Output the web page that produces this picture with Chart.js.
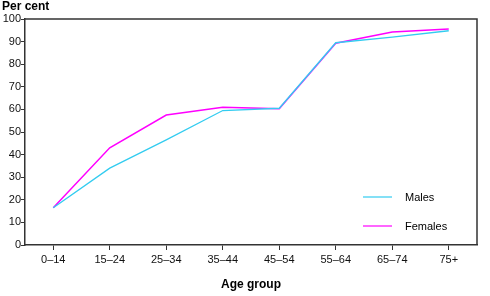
<!DOCTYPE html>
<html>
<head>
<meta charset="utf-8">
<script src="https://cdn.jsdelivr.net/npm/chart.js@4"></script>
<style>
  html, body { margin: 0; padding: 0; background: #fff; }
  #wrap { width: 490px; height: 296px; }
</style>
</head>
<body>
<div id="wrap"><canvas id="chart" width="490" height="296"></canvas></div>
<script>
// Data
const ageGroups = ['0\u201314', '15\u201324', '25\u201334', '35\u201344', '45\u201354', '55\u201364', '65\u201374', '75+'];
const males = [16.5, 34, 46.5, 59.5, 60.5, 89.5, 92, 94.8];
const females = [16.5, 43, 57.5, 61, 60.3, 89.3, 94.2, 95.6];
const yTicks = [0, 10, 20, 30, 40, 50, 60, 70, 80, 90, 100];

const axisColor = '#333';
const font = 'Liberation Sans, Arial, sans-serif';

// frame on top/right, the "Per cent" label and the inside legend
const extras = {
  id: 'extras',
  afterDraw(chart) {
    const { ctx, chartArea: a } = chart;
    ctx.save();
    ctx.strokeStyle = axisColor;
    ctx.lineWidth = 1.5;
    ctx.beginPath();
    ctx.moveTo(a.left, a.top);
    ctx.lineTo(a.right, a.top);
    ctx.lineTo(a.right, a.bottom);
    ctx.stroke();

    ctx.fillStyle = '#000';
    ctx.font = 'bold 12px ' + font;
    ctx.textBaseline = 'middle';
    ctx.fillText('Per cent', 2, 7);

    // legend
    ctx.font = '11px ' + font;
    chart.data.datasets.forEach((ds, i) => {
      const y = a.bottom - 48 + i * 29;
      const x = a.right - 114;
      ctx.strokeStyle = ds.borderColor;
      ctx.lineWidth = 1.2;
      ctx.beginPath();
      ctx.moveTo(x, y);
      ctx.lineTo(x + 29, y);
      ctx.stroke();
      ctx.fillStyle = '#000';
      ctx.fillText(ds.label, x + 42, y + 1);
    });
    ctx.restore();
  }
};

new Chart(document.getElementById('chart'), {
  type: 'line',
  data: {
    labels: ageGroups,
    datasets: [
      { label: 'Males', data: males, borderColor: '#33ccf0', borderWidth: 1.3, pointRadius: 0, tension: 0 },
      { label: 'Females', data: females, borderColor: '#ff00ff', borderWidth: 1.5, pointRadius: 0, tension: 0 }
    ]
  },
  options: {
    responsive: false,
    animation: false,
    layout: { padding: { top: 19, right: 13, left: 0, bottom: 0 } },
    plugins: { legend: { display: false }, tooltip: { enabled: false } },
    scales: {
      x: {
        offset: true,
        border: { color: axisColor, width: 1.5 },
        grid: { display: true, drawOnChartArea: false, color: axisColor, tickLength: 5, offset: false },
        ticks: { color: '#111', font: { family: font, size: 11 }, padding: 3, maxRotation: 0, autoSkip: false },
        title: { display: true, text: 'Age group', color: '#000', font: { family: font, size: 12, weight: 'bold' }, padding: { top: 0, bottom: 4 } },
        afterFit(scale) { scale.height = 51; }
      },
      y: {
        min: 0,
        max: 100,
        afterBuildTicks(scale) { scale.ticks = yTicks.map(v => ({ value: v })); },
        border: { color: axisColor, width: 1.5 },
        grid: { display: true, drawOnChartArea: false, color: axisColor, tickLength: 4 },
        ticks: { color: '#111', font: { family: font, size: 11 }, padding: 0 },
        afterFit(scale) { scale.width = 25; }
      }
    }
  },
  plugins: [extras]
});
</script>
</body>
</html>
